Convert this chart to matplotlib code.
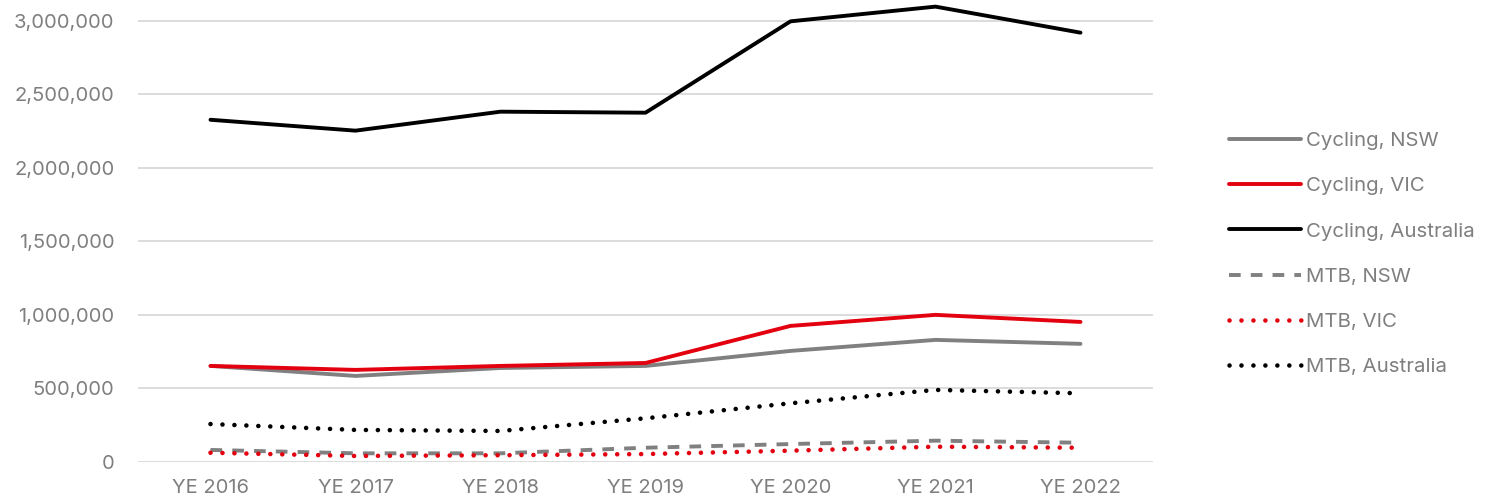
import matplotlib
matplotlib.use('Agg')
import matplotlib.pyplot as plt
from matplotlib.ticker import FuncFormatter

plt.rcParams['font.family'] = ['Inter', 'DejaVu Sans']

years = ['YE 2016', 'YE 2017', 'YE 2018', 'YE 2019', 'YE 2020', 'YE 2021', 'YE 2022']

cycling_nsw = [653000, 585000, 639000, 653000, 755000, 830000, 803000]
cycling_vic = [653000, 626000, 653000, 673000, 925000, 1000000, 952000]
cycling_aus = [2326000, 2252000, 2381000, 2374000, 2995000, 3095000, 2918000]
mtb_nsw = [82000, 59000, 59000, 97000, 122000, 145000, 131000]
mtb_vic = [63000, 41000, 46000, 54000, 77000, 104000, 97000]
mtb_aus = [258000, 218000, 211000, 297000, 399000, 490000, 467000]

grey = '#808080'
red = '#e3000f'
text_col = '#7f7f7f'

fig = plt.figure(figsize=(15.01, 5.04), dpi=100)
ax = fig.add_axes([138 / 1501, 42 / 504, (1153 - 138) / 1501, 462 / 504])

x = range(len(years))
lw = 2.8
dlw = 3.3
dot = (0, (0.01, 2.6))
ax.plot(x, cycling_nsw, color=grey, lw=lw, solid_capstyle='round', label='Cycling, NSW')
ax.plot(x, cycling_vic, color=red, lw=lw, solid_capstyle='round', label='Cycling, VIC')
ax.plot(x, cycling_aus, color='black', lw=lw, solid_capstyle='round', label='Cycling, Australia')
ax.plot(x, mtb_nsw, color=grey, lw=lw, linestyle=(0, (3.0, 2.6)), label='MTB, NSW')
ax.plot(x, mtb_vic, color=red, lw=dlw, linestyle=dot, dash_capstyle='round', label='MTB, VIC')
ax.plot(x, mtb_aus, color='black', lw=dlw, linestyle=dot, dash_capstyle='round', label='MTB, Australia')

ax.set_xlim(-0.5, len(years) - 0.5)
ax.set_ylim(0, 3140000)
ax.set_yticks(range(0, 3000001, 500000))
ax.yaxis.set_major_formatter(FuncFormatter(lambda v, p: f'{int(v):,}'))
ax.set_xticks(list(x))
ax.set_xticklabels(years)

ax.grid(axis='y', color='#d9d9d9', lw=1.3)
ax.set_axisbelow(True)
for s in ax.spines.values():
    s.set_visible(False)
ax.tick_params(axis='both', length=0, labelsize=14.5, colors=text_col)
ax.tick_params(axis='y', pad=17)
ax.tick_params(axis='x', pad=12)

leg = fig.legend(loc='center left', bbox_to_anchor=(1211 / 1501, 250 / 504), frameon=False,
                 fontsize=14.7, handlelength=3.5, handletextpad=0.25, labelspacing=1.32)
for t in leg.get_texts():
    t.set_color(text_col)

fig.savefig('out.png', dpi=100)
